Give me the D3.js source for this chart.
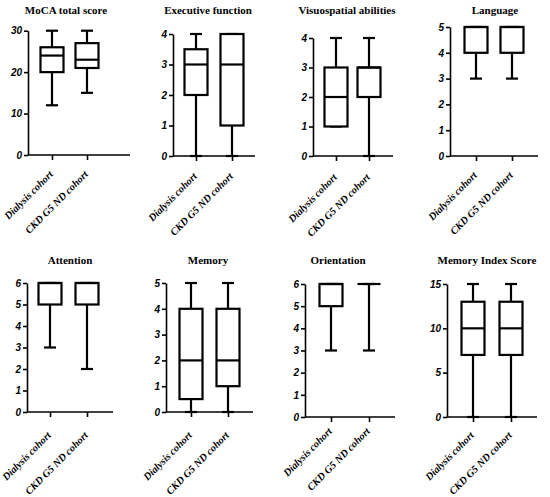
<!DOCTYPE html>
<html>
<head>
<meta charset="utf-8">
<script src="https://cdn.jsdelivr.net/npm/d3@7"></script>
<style>
  body { margin: 0; background: #fff; }
  .title { font-family: "Liberation Serif", "Times New Roman", serif; font-weight: bold; font-size: 11px; }
  .ytick text { font-family: "Liberation Sans", Arial, sans-serif; font-weight: bold; font-style: italic; font-size: 10px; }
  .xtick text { font-family: "Liberation Serif", "Times New Roman", serif; font-weight: bold; font-style: italic; font-size: 10.3px; }
</style>
</head>
<body>
<div id="chart"></div>
<script>
// groups on the x axis of every panel
const groups = ["Dialysis cohort", "CKD G5 ND cohort"];

const titles = [
  "MoCA total score", "Executive function", "Visuospatial abilities", "Language",
  "Attention", "Memory", "Orientation", "Memory Index Score"
];

const yMax = [30, 4, 4, 5, 6, 5, 6, 15];

const yTicks = [
  [0, 10, 20, 30],
  [0, 1, 2, 3, 4],
  [0, 1, 2, 3, 4],
  [0, 1, 2, 3, 4, 5],
  [0, 1, 2, 3, 4, 5, 6],
  [0, 1, 2, 3, 4, 5],
  [0, 1, 2, 3, 4, 5, 6],
  [0, 5, 10, 15]
];

// [min, q1, median, q3, max] per panel
const dialysisStats = [
  [12, 20, 24, 26, 30],
  [0, 2, 3, 3.5, 4],
  [1, 1, 2, 3, 4],
  [3, 4, 5, 5, 5],
  [3, 5, 6, 6, 6],
  [0, 0.5, 2, 4, 5],
  [3, 5, 6, 6, 6],
  [0, 7, 10, 13, 15]
];

const ckdStats = [
  [15, 21, 23, 27, 30],
  [0, 1, 3, 4, 4],
  [0, 2, 3, 3, 4],
  [3, 4, 5, 5, 5],
  [2, 5, 6, 6, 6],
  [0, 1, 2, 4, 5],
  [3, 6, 6, 6, 6],
  [0, 7, 10, 13, 15]
];

// panel frames: y axis x, x axis end, first/last box centre, y range, title position, label drop
const layout = [
  { x0: 28,  xEnd: 130, c1: 52,  c2: 87,  yTop: 30.7, yBottom: 155, tx: 66,  ty: 13.5, ld: 20 },
  { x0: 173, xEnd: 255, c1: 196, c2: 232, yTop: 34,   yBottom: 156, tx: 208, ty: 13.5, ld: 21 },
  { x0: 313, xEnd: 393, c1: 336, c2: 369, yTop: 38,   yBottom: 156, tx: 347, ty: 13.5, ld: 22 },
  { x0: 450, xEnd: 538, c1: 476, c2: 512, yTop: 27,   yBottom: 156, tx: 495, ty: 13.5, ld: 20 },
  { x0: 27,  xEnd: 113, c1: 50,  c2: 87,  yTop: 283,  yBottom: 412, tx: 70,  ty: 263.5, ld: 24 },
  { x0: 166, xEnd: 253, c1: 191, c2: 228, yTop: 283,  yBottom: 412, tx: 208, ty: 263.5, ld: 24 },
  { x0: 305, xEnd: 395, c1: 331, c2: 369, yTop: 284,  yBottom: 417, tx: 338, ty: 263.5, ld: 15 },
  { x0: 447, xEnd: 537, c1: 473, c2: 511, yTop: 284,  yBottom: 417, tx: 487, ty: 263.5, ld: 19 }
];

const width = 550, height = 497;
const boxW = 23, capW = 12;

const svg = d3.select("#chart")
  .append("svg")
  .attr("width", width)
  .attr("height", height);

titles.forEach((title, i) => {
  const L = layout[i];
  const g = svg.append("g");

  const x = d3.scalePoint().domain(groups).range([L.c1, L.c2]);
  const y = d3.scaleLinear().domain([0, yMax[i]]).range([L.yBottom, L.yTop]);

  // title
  g.append("text")
    .attr("class", "title")
    .attr("x", L.tx)
    .attr("y", L.ty)
    .attr("text-anchor", "middle")
    .text(title);

  // boxes
  const stats = [dialysisStats[i], ckdStats[i]];
  groups.forEach((grp, j) => {
    const [mn, q1, md, q3, mx] = stats[j];
    const cx = x(grp);
    const bg = g.append("g")
      .attr("fill", "none")
      .attr("stroke", "#000")
      .attr("stroke-width", 2.2);
    // whiskers
    bg.append("line").attr("x1", cx).attr("x2", cx).attr("y1", y(q3)).attr("y2", y(mx));
    bg.append("line").attr("x1", cx).attr("x2", cx).attr("y1", y(q1)).attr("y2", y(mn));
    bg.append("line").attr("x1", cx - capW / 2).attr("x2", cx + capW / 2).attr("y1", y(mx)).attr("y2", y(mx));
    bg.append("line").attr("x1", cx - capW / 2).attr("x2", cx + capW / 2).attr("y1", y(mn)).attr("y2", y(mn));
    // box
    bg.append("rect")
      .attr("x", cx - boxW / 2)
      .attr("y", y(q3))
      .attr("width", boxW)
      .attr("height", Math.max(0, y(q1) - y(q3)))
      .attr("fill", "#fff");
    bg.append("line").attr("x1", cx - boxW / 2).attr("x2", cx + boxW / 2).attr("y1", y(md)).attr("y2", y(md));
  });

  // y axis
  const yAxis = g.append("g")
    .attr("class", "ytick")
    .attr("transform", `translate(${L.x0},0)`)
    .call(d3.axisLeft(y).tickValues(yTicks[i]).tickFormat(d3.format("d"))
      .tickSize(4).tickSizeOuter(0).tickPadding(2));
  yAxis.selectAll("path, line").attr("stroke", "#000").attr("stroke-width", 1.6);
  yAxis.selectAll("text").attr("fill", "#000");

  // x axis
  const xAxis = g.append("g")
    .attr("class", "xtick")
    .attr("transform", `translate(0,${L.yBottom})`)
    .call(d3.axisBottom(x).tickSize(5).tickSizeOuter(0));
  xAxis.select(".domain").remove();
  xAxis.append("line")
    .attr("x1", L.x0).attr("x2", L.xEnd)
    .attr("stroke", "#000").attr("stroke-width", 1.6);
  xAxis.selectAll(".tick line").attr("stroke", "#000").attr("stroke-width", 1.6);
  xAxis.selectAll(".tick text")
    .attr("fill", "#000")
    .attr("text-anchor", "end")
    .attr("dy", null)
    .attr("y", 0)
    .attr("transform", `translate(1,${L.ld}) rotate(-45)`);
});
</script>
</body>
</html>
